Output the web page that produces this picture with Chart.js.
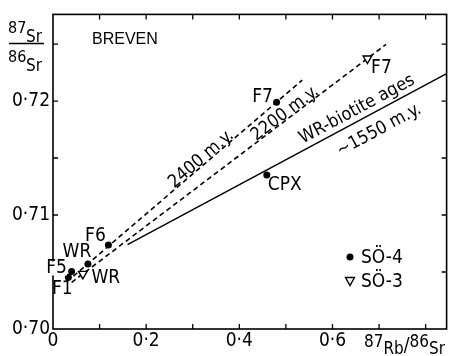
<!DOCTYPE html>
<html><head><meta charset="utf-8">
<script src="https://cdn.jsdelivr.net/npm/chart.js@4/dist/chart.umd.min.js"></script>
<style>html,body{margin:0;padding:0;background:#fff}#wrap{width:453px;height:356px;position:relative}</style>
</head><body><div id="wrap"><canvas id="c" width="453" height="356"></canvas></div>
<script>
// ---- data ----
const so4Labels = ['F1', 'F5', 'WR', 'F6', 'CPX', 'F7'];
const so4Rb = [0.033, 0.040, 0.075, 0.119, 0.459, 0.480];
const so4Sr = [0.70453, 0.70505, 0.70571, 0.70738, 0.71351, 0.71990];
const so3Labels = ['WR', 'F7'];
const so3Rb = [0.064, 0.675];
const so3Sr = [0.70484, 0.72373];
const lineNames = ['2400 m.y.', '2200 m.y.', 'WR-biotite ages'];
const line2400Rb = [0.030, 0.535];
const line2400Sr = [0.70415, 0.72183];
const line2200Rb = [0.040, 0.715];
const line2200Sr = [0.70409, 0.72497];
const line1550Rb = [0.160, 0.845];
const line1550Sr = [0.70740, 0.72240];
const xTickValues = [0, 0.2, 0.4, 0.6];
const xTickLabels = ['0', '0·2', '0·4', '0·6'];
const yTickValues = [0.70, 0.71, 0.72];
const yTickLabels = ['0·70', '0·71', '0·72'];
const legendLabels = ['SÖ-4', 'SÖ-3'];
const titleText = 'BREVEN';

// ---- styling / layout ----
const FONT = "'DejaVu Sans Condensed', 'Liberation Sans', sans-serif";
const pts = (xs, ys) => xs.map((x, i) => ({ x: x, y: ys[i] }));
// label offsets (px) from each marker to its text centre
const so4Offsets = [[-6, 12], [-15, -3], [-11, -12], [-13, -9], [18, 10], [-14, -5]];
const so3Offsets = [[23, 4], [14, 10]];
// rotated annotations: text, anchor in data units, which line gives the angle
const notes = [
  { text: '2400 m.y.', x: 0.3183, y: 0.71490, line: 0 },
  { text: '2200 m.y.', x: 0.4984, y: 0.71891, line: 1 },
  { text: 'WR-biotite ages', x: 0.6527, y: 0.71926, line: 2 },
  { text: '~1550 m.y.', x: 0.7000, y: 0.71745, line: 2 }
];
const lineSets = [[line2400Rb, line2400Sr], [line2200Rb, line2200Sr], [line1550Rb, line1550Sr]];

function fmtTick(list, labels, v) {
  for (let i = 0; i < list.length; i++) if (Math.abs(list[i] - v) < 1e-6) return labels[i];
  return '';
}

const decor = {
  id: 'decor',
  afterDraw(chart) {
    const ctx = chart.ctx, a = chart.chartArea, xs = chart.scales.x, ys = chart.scales.y;
    ctx.save();
    ctx.strokeStyle = '#000';
    ctx.fillStyle = '#000';
    // frame
    ctx.lineWidth = 1.6;
    ctx.strokeRect(a.left, a.top, a.right - a.left, a.bottom - a.top);
    // inward ticks
    ctx.lineWidth = 1.3;
    ctx.beginPath();
    xs.ticks.forEach(t => {
      const px = xs.getPixelForValue(t.value);
      if (px <= a.left + 1 || px >= a.right - 1) return;
      ctx.moveTo(px, a.bottom); ctx.lineTo(px, a.bottom - 5);
      ctx.moveTo(px, a.top); ctx.lineTo(px, a.top + 5);
    });
    ys.ticks.forEach(t => {
      const py = ys.getPixelForValue(t.value);
      if (py >= a.bottom - 1 || py <= a.top + 1) return;
      ctx.moveTo(a.left, py); ctx.lineTo(a.left + 5, py);
      ctx.moveTo(a.right, py); ctx.lineTo(a.right - 5, py);
    });
    ctx.stroke();

    // point labels
    ctx.font = '19px ' + FONT;
    ctx.textAlign = 'center';
    ctx.textBaseline = 'middle';
    so4Labels.forEach((l, i) => {
      const px = xs.getPixelForValue(so4Rb[i]) + so4Offsets[i][0];
      const py = ys.getPixelForValue(so4Sr[i]) + so4Offsets[i][1];
      if (l === 'F5') {
        const w = ctx.measureText(l).width;
        ctx.fillStyle = '#fff';
        ctx.fillRect(px - w / 2, py - 7, w, 14);
        ctx.fillStyle = '#000';
      }
      ctx.fillText(l, px, py);
    });
    so3Labels.forEach((l, i) => {
      const px = xs.getPixelForValue(so3Rb[i]) + so3Offsets[i][0];
      const py = ys.getPixelForValue(so3Sr[i]) + so3Offsets[i][1];
      ctx.fillText(l, px, py);
    });

    // rotated notes
    ctx.font = '18px ' + FONT;
    notes.forEach(n => {
      const L = lineSets[n.line];
      const x1 = xs.getPixelForValue(L[0][0]), y1 = ys.getPixelForValue(L[1][0]);
      const x2 = xs.getPixelForValue(L[0][1]), y2 = ys.getPixelForValue(L[1][1]);
      const ang = Math.atan2(y2 - y1, x2 - x1);
      ctx.save();
      ctx.translate(xs.getPixelForValue(n.x), ys.getPixelForValue(n.y));
      ctx.rotate(ang);
      ctx.fillText(n.text, 0, 0);
      ctx.restore();
    });

    // title
    ctx.font = "16px 'Liberation Sans', sans-serif";
    ctx.textAlign = 'left';
    ctx.fillText(titleText, 92, 40);

    // legend
    ctx.beginPath();
    ctx.arc(350, 257, 3.5, 0, Math.PI * 2);
    ctx.fill();
    ctx.lineWidth = 1.4;
    ctx.beginPath();
    ctx.moveTo(345.5, 277.5); ctx.lineTo(354.5, 277.5); ctx.lineTo(350, 285.5); ctx.closePath();
    ctx.stroke();
    ctx.font = '19px ' + FONT;
    ctx.fillText(legendLabels[0], 361, 258);
    ctx.fillText(legendLabels[1], 361, 282);

    // y-axis title 87Sr / 86Sr
    ctx.textBaseline = 'alphabetic';
    ctx.font = '16px ' + FONT;
    ctx.fillText('87', 8, 33);
    ctx.fillText('86', 8, 62);
    ctx.font = '17px ' + FONT;
    ctx.fillText('Sr', 26, 42);
    ctx.fillText('Sr', 26, 71);
    ctx.lineWidth = 1.5;
    ctx.beginPath(); ctx.moveTo(9, 43.5); ctx.lineTo(44, 43.5); ctx.stroke();

    // x-axis title 87Rb/86Sr, pieces chained left to right
    const parts = [['87', 17, 347], ['Rb', 17, 354], ['/', 19, 351], ['86', 17, 347], ['Sr', 17, 354]];
    let cx = 364;
    parts.forEach(p => {
      ctx.font = p[1] + 'px ' + FONT;
      ctx.fillText(p[0], cx, p[2]);
      cx += ctx.measureText(p[0]).width;
    });
    ctx.restore();
  }
};

new Chart(document.getElementById('c'), {
  type: 'scatter',
  data: {
    datasets: [
      { label: legendLabels[0], data: pts(so4Rb, so4Sr), pointStyle: 'circle', pointRadius: 3.5,
        backgroundColor: '#000', borderColor: '#000', borderWidth: 0, showLine: false },
      { label: legendLabels[1], data: pts(so3Rb, so3Sr), pointStyle: 'triangle', rotation: 180, pointRadius: 5,
        backgroundColor: '#fff', borderColor: '#000', borderWidth: 1.4, showLine: false },
      { label: lineNames[0], data: pts(line2400Rb, line2400Sr), showLine: true, pointRadius: 0,
        borderColor: '#000', borderWidth: 1.6, borderDash: [5, 3.5] },
      { label: lineNames[1], data: pts(line2200Rb, line2200Sr), showLine: true, pointRadius: 0,
        borderColor: '#000', borderWidth: 1.6, borderDash: [5, 3.5] },
      { label: lineNames[2], data: pts(line1550Rb, line1550Sr), showLine: true, pointRadius: 0,
        borderColor: '#000', borderWidth: 1.5 }
    ]
  },
  options: {
    responsive: false,
    animation: false,
    devicePixelRatio: 1,
    layout: { padding: { left: 0, right: 6, top: 12, bottom: 0 } },
    plugins: { legend: { display: false }, tooltip: { enabled: false } },
    scales: {
      x: {
        type: 'linear', min: 0, max: 0.845,
        afterFit: s => { s.height = 27; },
        grid: { display: false, drawTicks: false },
        border: { display: false },
        ticks: { stepSize: 0.1, includeBounds: false, autoSkip: false, maxRotation: 0, padding: 1,
          color: '#000', font: { family: FONT, size: 19 },
          callback: v => fmtTick(xTickValues, xTickLabels, v) }
      },
      y: {
        type: 'linear', min: 0.70, max: 0.7276,
        afterFit: s => { s.width = 53; },
        grid: { display: false, drawTicks: false },
        border: { display: false },
        ticks: { stepSize: 0.005, includeBounds: false, autoSkip: false, padding: 3,
          color: '#000', font: { family: FONT, size: 19 },
          callback: v => fmtTick(yTickValues, yTickLabels, v) }
      }
    }
  },
  plugins: [decor]
});
</script>
</body></html>
